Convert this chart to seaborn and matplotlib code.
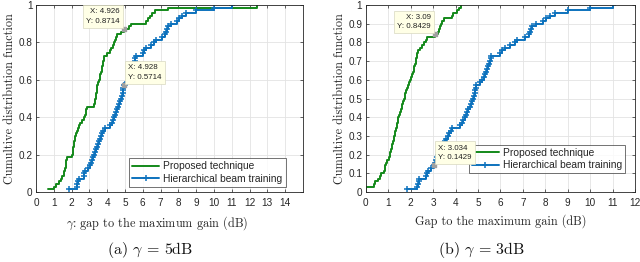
import numpy as np
import pandas as pd
import matplotlib
matplotlib.use("Agg")
import matplotlib.pyplot as plt
import seaborn as sns

# sorted samples of the gap (dB), 70 channel realisations each
proposed_5db = [0.7, 1.0, 1.15, 1.3, 1.4, 1.45, 1.55, 1.6, 1.62, 1.66,
                1.68, 1.7, 1.73, 2.0, 2.05, 2.08, 2.1, 2.13, 2.15, 2.18,
                2.2, 2.25, 2.3, 2.35, 2.4, 2.45, 2.6, 2.67, 2.75, 2.8,
                2.83, 2.86, 3.25, 3.3, 3.33, 3.36, 3.38, 3.4, 3.42, 3.45,
                3.5, 3.53, 3.57, 3.6, 3.65, 3.7, 3.73, 3.75, 3.77, 3.8,
                3.82, 4.0, 4.15, 4.2, 4.3, 4.4, 4.45, 4.5, 4.55, 4.75,
                4.926, 5.2, 5.35, 6.2, 6.3, 6.4, 6.5, 6.7, 7.4, 12.4]

proposed_3db = [0.0, 0.0, 0.38, 0.42, 0.55, 0.64, 0.7, 0.8, 0.85, 0.87,
                0.9, 0.95, 1.02, 1.08, 1.1, 1.13, 1.15, 1.17, 1.2, 1.24,
                1.27, 1.29, 1.32, 1.35, 1.38, 1.4, 1.43, 1.46, 1.5, 1.53,
                1.56, 1.6, 1.62, 1.66, 1.7, 1.73, 1.76, 1.8, 1.85, 1.9,
                1.93, 1.97, 2.02, 2.07, 2.1, 2.13, 2.16, 2.2, 2.22, 2.25,
                2.28, 2.3, 2.32, 2.4, 2.5, 2.6, 2.7, 2.75, 3.09, 3.2,
                3.25, 3.3, 3.36, 3.42, 3.5, 3.85, 3.9, 4.05, 4.15, 4.25]

hierarchical = [1.83, 2.3, 2.33, 2.36, 2.39, 2.68, 2.72, 2.77, 2.9, 3.034,
                3.07, 3.12, 3.18, 3.24, 3.29, 3.35, 3.41, 3.47, 3.52, 3.59,
                3.65, 3.71, 3.79, 3.86, 4.18, 4.28, 4.35, 4.41, 4.46, 4.52,
                4.57, 4.63, 4.68, 4.74, 4.79, 4.84, 4.86, 4.89, 4.91, 4.928,
                5.1, 5.2, 5.25, 5.3, 5.35, 5.4, 5.45, 5.5, 5.54, 5.57,
                5.6, 6.0, 6.06, 6.2, 6.44, 6.63, 6.72, 7.1, 7.27, 7.32,
                7.36, 7.4, 7.6, 7.9, 8.04, 8.23, 8.45, 9.0, 10.0, 11.0]

# data tips shown on each panel
tips_a_x = [4.926, 4.928]
tips_a_y = [0.8714, 0.5714]
tips_b_x = [3.09, 3.034]
tips_b_y = [0.8429, 0.1429]

xticks_a = list(range(0, 15))
xticks_b = list(range(0, 13))
yticks_a = [0, 0.2, 0.4, 0.6, 0.8, 1]
yticks_b = [0, 0.1, 0.2, 0.3, 0.4, 0.5, 0.6, 0.7, 0.8, 0.9, 1]

sns.set_theme(style="ticks")
plt.rcParams["mathtext.fontset"] = "cm"
plt.rcParams["axes.unicode_minus"] = False

GREEN = "#13891a"
BLUE = "#0d72bd"
DARK = "#262626"
SANS = "Liberation Sans"
SERIF = "cmr10"


def ecdf_frame(values, name):
    v = np.sort(np.asarray(values, dtype=float))
    return pd.DataFrame({"gap": v, "cdf": np.arange(1, len(v) + 1) / len(v),
                         "method": name})


def draw_panel(ax, prop, hier, xlim, xticks, yticks, xlabel, xlabel_pos,
               tips_x, tips_y, tip_offsets, legend_anchor):
    d1 = ecdf_frame(prop, "Proposed technique")
    d2 = ecdf_frame(hier, "Hierarchical beam training")
    sns.lineplot(data=d1, x="gap", y="cdf", ax=ax, color=GREEN, lw=1.4,
                 estimator=None, sort=False, drawstyle="steps-post",
                 label="Proposed technique")
    sns.lineplot(data=d2, x="gap", y="cdf", ax=ax, color=BLUE, lw=1.4,
                 estimator=None, sort=False, drawstyle="steps-post",
                 marker="+", markersize=5, markeredgewidth=1.1,
                 markeredgecolor=BLUE, label="Hierarchical beam training")

    ax.set_xlim(*xlim)
    ax.set_ylim(0, 1)
    ax.set_xticks(xticks)
    ax.set_yticks(yticks)
    ax.set_yticklabels([("%g" % t) for t in yticks])
    ax.grid(True, color="#e3e3e3", lw=0.6)
    ax.set_axisbelow(True)
    for s in ax.spines.values():
        s.set_color(DARK)
        s.set_linewidth(0.6)
    ax.tick_params(direction="in", length=2.5, width=0.5, top=True,
                   right=True, colors=DARK, labelsize=7.2)
    ax.tick_params(axis="x", pad=4)
    ax.tick_params(axis="y", pad=2.5)
    for lab in ax.get_xticklabels() + ax.get_yticklabels():
        lab.set_fontfamily(SANS)
    ax.set_xlabel(xlabel, fontfamily=SERIF, fontsize=8.8, color=DARK,
                  labelpad=3)
    ax.xaxis.set_label_coords(xlabel_pos, -0.12)
    ax.set_ylabel("Cumultive distribution function", fontfamily=SERIF,
                  fontsize=8.8, color=DARK, labelpad=1.5)

    ax.scatter(tips_x, tips_y, marker="s", s=9, color="#a0a0a0", zorder=5)
    for tx, ty, (dx, dy, ha, va) in zip(tips_x, tips_y, tip_offsets):
        ax.annotate("X: %s\nY: %s" % (tx, ty), xy=(tx, ty),
                    xytext=(dx, dy), textcoords="offset points",
                    ha=ha, va=va, fontsize=5.7, fontfamily=SANS,
                    color="#222222", linespacing=1.5, zorder=6,
                    bbox=dict(boxstyle="square,pad=0.4", fc="#ffffe6",
                              ec="#d8d8c0", lw=0.5))

    leg = ax.legend(loc="lower right", bbox_to_anchor=legend_anchor,
                    frameon=True, fancybox=False, borderpad=0.3,
                    handlelength=2.6, handletextpad=0.4, labelspacing=0.25,
                    borderaxespad=0, prop={"family": SANS, "size": 7.4})
    leg.get_frame().set_edgecolor("#333333")
    leg.get_frame().set_linewidth(0.6)


fig = plt.figure(figsize=(6.4, 2.62), dpi=100)
ax_a = fig.add_axes([0.0563, 0.267, 0.417, 0.714])
ax_b = fig.add_axes([0.5714, 0.267, 0.421, 0.714])

draw_panel(ax_a, proposed_5db, hierarchical, (0, 15), xticks_a, yticks_a,
           r"$\gamma$: gap to the maximum gain (dB)", 0.455,
           tips_a_x, tips_a_y,
           [(-3, 3, "right", "bottom"), (3, 3, "left", "bottom")],
           (0.935, 0.027))
draw_panel(ax_b, proposed_3db, hierarchical, (0, 12), xticks_b, yticks_b,
           "Gap to the maximum gain (dB)", 0.5, tips_b_x, tips_b_y,
           [(-3, 3, "right", "bottom"), (3, 3, "left", "bottom")],
           (0.963, 0.10))

fig.text(150 / 640, 1 - 250 / 262, r"(a) $\gamma$ = 5dB", ha="center",
         va="center", fontfamily=SERIF, fontsize=11.5, color="#111111")
fig.text(482 / 640, 1 - 250 / 262, r"(b) $\gamma$ = 3dB", ha="center",
         va="center", fontfamily=SERIF, fontsize=11.5, color="#111111")

fig.savefig("out.png", dpi=100)
